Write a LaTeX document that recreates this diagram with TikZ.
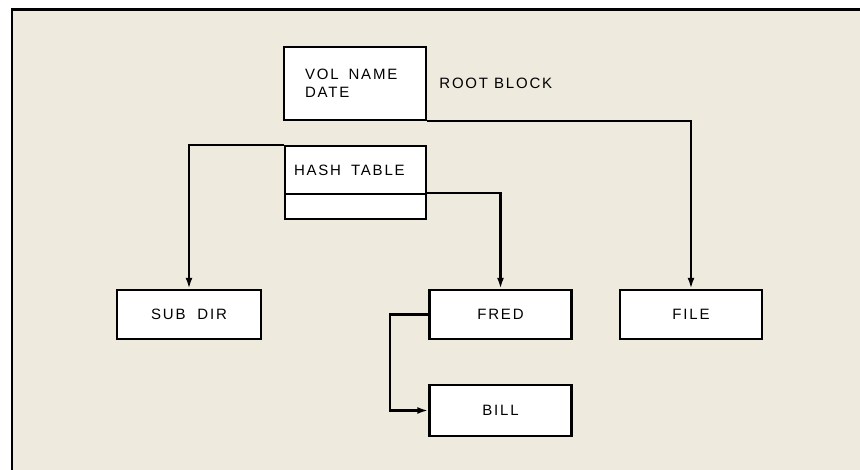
\documentclass[tikz,border=0pt]{standalone}
\usepackage{fontspec}
\setmainfont{Liberation Sans}[LetterSpace=12]
\usetikzlibrary{arrows.meta, positioning}
\definecolor{paper}{HTML}{EEEADD}

\begin{document}
\begin{tikzpicture}[x=1pt, y=-1pt, font=\fontsize{15}{18}\selectfont, >={Latex[length=11pt, width=7pt]},
  blk/.style={draw, line width=2.4pt, fill=white, align=center, inner sep=0pt,
              minimum width=142pt, minimum height=49pt},
  lbl/.style={inner sep=0pt},
  arr/.style={->, line width=2.2pt}]
\useasboundingbox (0,0) rectangle (860,470);

% --- page
\fill[paper] (12,9.5) rectangle (860,470);
\draw[line width=2.5pt] (860,9.5) -- (12,9.5) -- (12,470);

% --- root block and hash table
\node[blk, minimum height=73pt, align=left, text width=100pt] (root) at (355,83.5) {VOL\ \ NAME\\DATE};
\node[lbl, right=12pt of root] (rlbl) {ROOT\ BLOCK};
\node[blk, minimum width=141pt, minimum height=48pt, align=left, text width=123pt] (hash) at (355.5,170) {HASH\ \ TABLE};
\node[blk, minimum width=141pt, minimum height=25pt, below=-2.4pt of hash] (hlow) {};

% --- entries
\node[blk, minimum width=144pt] (subdir) at (189,314.5) {SUB\ \ DIR};
\node[blk] (fred) at (500.5,314.5) {FRED};
\node[blk] (file) at (691,314.5) {FILE};
\node[blk, minimum height=51pt] (bill) at (500.5,410.5) {BILL};

\draw[arr] (root.south east) -| (file.north);
\draw[arr] (hash.north west) -| (subdir.north);
\draw[arr] (hlow.north east) -| (fred.north);
\draw[arr] (fred.west) -- ++(-38,0) |- (bill.west);
\end{tikzpicture}
\end{document}
